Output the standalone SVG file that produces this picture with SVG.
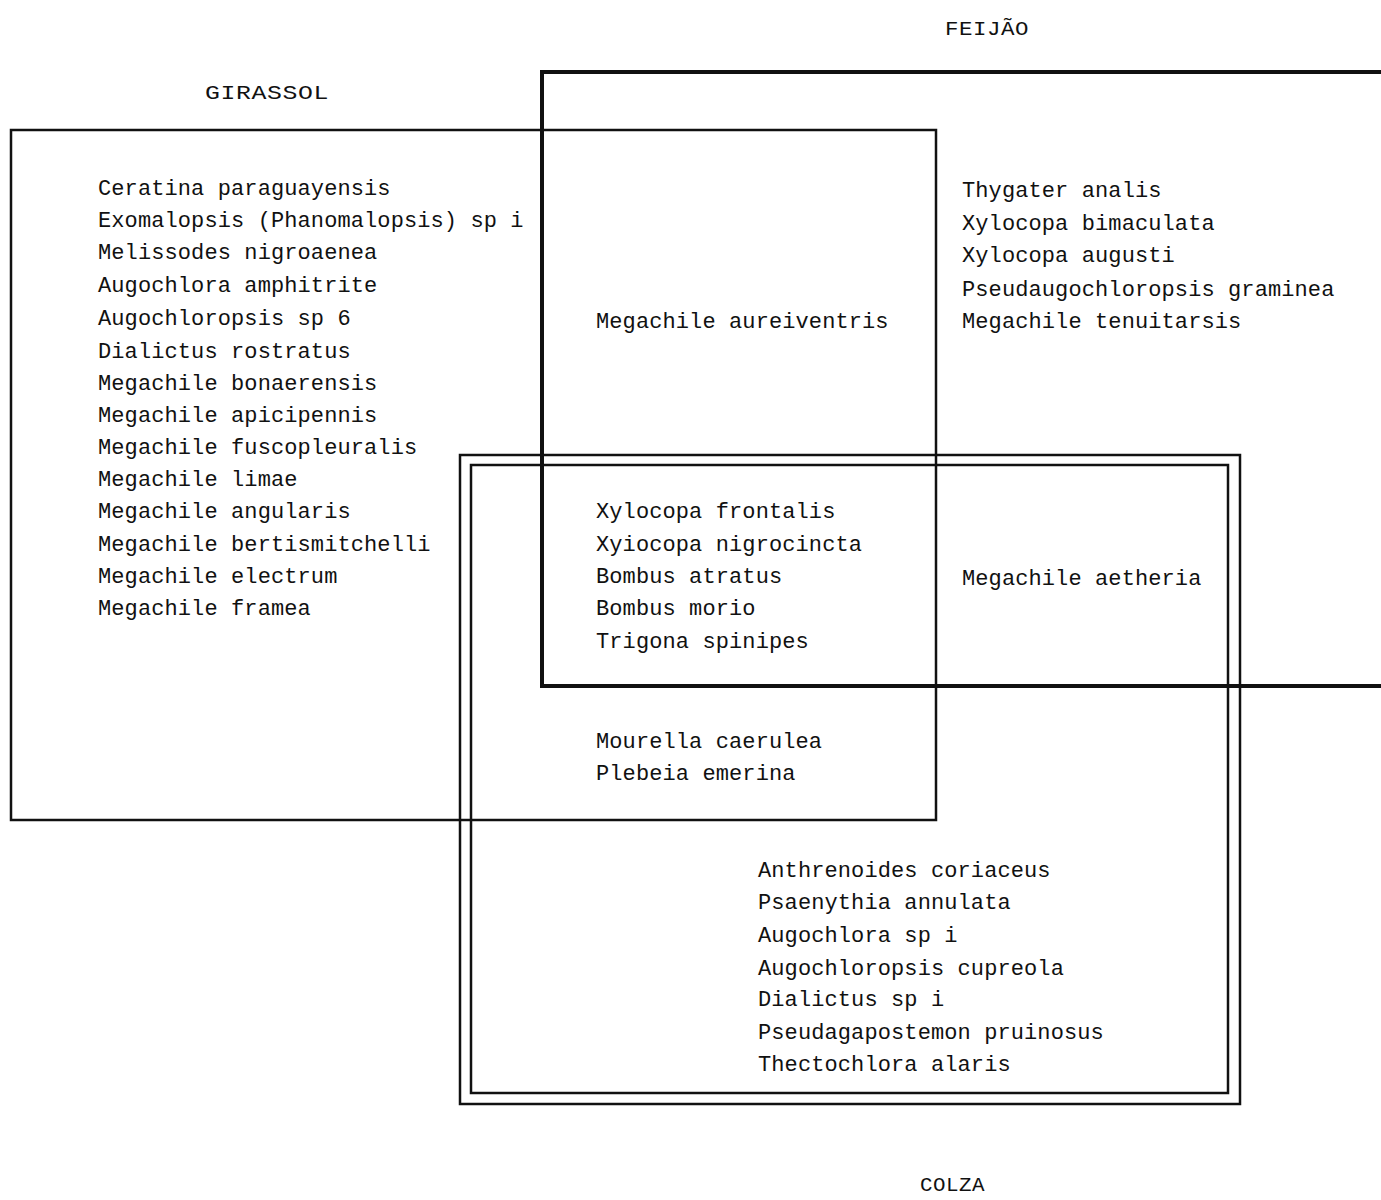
<svg xmlns="http://www.w3.org/2000/svg" width="1381" height="1200" viewBox="0 0 1381 1200">
<style>
text{font-family:"Liberation Mono","DejaVu Sans Mono",monospace;font-size:22px;letter-spacing:0.1px;fill:#111}
.lbl{font-size:21px;letter-spacing:0.5px}
.box{fill:none;stroke:#111;stroke-width:2.5}
.thick{fill:none;stroke:#111;stroke-width:4}
</style>
<rect width="1381" height="1200" fill="#fff"/>
<g id="girassol">
<rect class="box" x="11" y="130" width="925" height="690"/>
<text class="lbl" x="205" y="99" textLength="124" lengthAdjust="spacingAndGlyphs">GIRASSOL</text>
<text x="98" y="195">Ceratina paraguayensis</text>
<text x="98" y="227">Exomalopsis (Phanomalopsis) sp i</text>
<text x="98" y="259">Melissodes nigroaenea</text>
<text x="98" y="292">Augochlora amphitrite</text>
<text x="98" y="325">Augochloropsis sp 6</text>
<text x="98" y="358">Dialictus rostratus</text>
<text x="98" y="390">Megachile bonaerensis</text>
<text x="98" y="422">Megachile apicipennis</text>
<text x="98" y="454">Megachile fuscopleuralis</text>
<text x="98" y="486">Megachile limae</text>
<text x="98" y="518">Megachile angularis</text>
<text x="98" y="551">Megachile bertismitchelli</text>
<text x="98" y="583">Megachile electrum</text>
<text x="98" y="615">Megachile framea</text>
</g>
<g id="feijao">
<path class="thick" d="M1381 72 H542 V686 H1381"/>
<text class="lbl" x="945" y="35" textLength="84" lengthAdjust="spacingAndGlyphs">FEIJÃO</text>
<text x="962" y="197">Thygater analis</text>
<text x="962" y="230">Xylocopa bimaculata</text>
<text x="962" y="262">Xylocopa augusti</text>
<text x="962" y="296">Pseudaugochloropsis graminea</text>
<text x="962" y="328">Megachile tenuitarsis</text>
</g>
<g id="colza">
<rect class="box" x="460" y="455" width="780" height="649"/>
<rect class="box" x="471" y="465" width="757" height="628"/>
<text class="lbl" x="920" y="1191" textLength="65" lengthAdjust="spacingAndGlyphs">COLZA</text>
<text x="758" y="877">Anthrenoides coriaceus</text>
<text x="758" y="909">Psaenythia annulata</text>
<text x="758" y="942">Augochlora sp i</text>
<text x="758" y="975">Augochloropsis cupreola</text>
<text x="758" y="1006">Dialictus sp i</text>
<text x="758" y="1039">Pseudagapostemon pruinosus</text>
<text x="758" y="1071">Thectochlora alaris</text>
</g>
<g id="girassol-feijao">
<text x="596" y="328">Megachile aureiventris</text>
</g>
<g id="girassol-feijao-colza">
<text x="596" y="518">Xylocopa frontalis</text>
<text x="596" y="551">Xyiocopa nigrocincta</text>
<text x="596" y="583">Bombus atratus</text>
<text x="596" y="615">Bombus morio</text>
<text x="596" y="648">Trigona spinipes</text>
</g>
<g id="feijao-colza">
<text x="962" y="585">Megachile aetheria</text>
</g>
<g id="girassol-colza">
<text x="596" y="748">Mourella caerulea</text>
<text x="596" y="780">Plebeia emerina</text>
</g>
<g id="connectors"/>
</svg>
